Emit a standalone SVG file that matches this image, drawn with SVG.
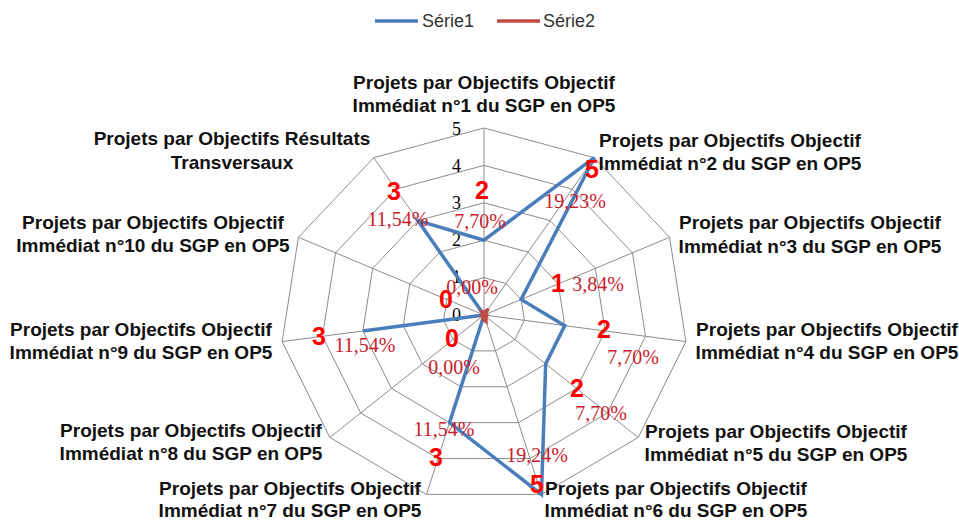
<svg xmlns="http://www.w3.org/2000/svg" width="959" height="520" viewBox="0 0 959 520">
<style>
.grid{fill:none;stroke:#8c8c8c;stroke-width:1}
.ax{font-family:"Liberation Sans",Arial,sans-serif;font-weight:bold;font-size:19px;fill:#111;text-anchor:middle}
.big{font-family:"Liberation Sans",Arial,sans-serif;font-weight:bold;font-size:25px;fill:#ff0000;text-anchor:middle}
.pct{font-family:"Liberation Serif","Times New Roman",serif;font-size:20px;fill:#c8202c;text-anchor:middle}
.tick{font-family:"Liberation Serif","Times New Roman",serif;font-size:18px;fill:#000;text-anchor:end}
.leg{font-family:"Liberation Sans",Arial,sans-serif;font-size:18px;fill:#333}
</style>
<rect width="959" height="520" fill="#fff"/>
<g id="legend">
<line x1="375" y1="21" x2="418" y2="21" stroke="#4a7ebb" stroke-width="3.5"/>
<text class="leg" x="422" y="27">Série1</text>
<line x1="497" y1="21" x2="540" y2="21" stroke="#be4b48" stroke-width="3.5"/>
<text class="leg" x="543" y="27">Série2</text>
</g>
<g id="grid">
<polygon class="grid" points="484,277.6 506.06,283.54 521.11,299.46 524.38,320.32 514.83,339.49 495.49,350.88 472.51,350.88 453.17,339.49 443.62,320.32 446.89,299.46 461.94,283.54"/>
<polygon class="grid" points="484,240.2 528.12,252.08 558.22,283.93 564.77,325.64 545.67,363.98 506.99,386.77 461.01,386.77 422.33,363.98 403.23,325.64 409.78,283.93 439.88,252.08"/>
<polygon class="grid" points="484,202.8 550.17,220.61 595.34,268.39 605.15,330.97 576.5,388.48 518.48,422.65 449.52,422.65 391.5,388.48 362.85,330.97 372.66,268.39 417.83,220.61"/>
<polygon class="grid" points="484,165.4 572.23,189.15 632.45,252.86 645.54,336.29 607.34,412.97 529.98,458.54 438.02,458.54 360.66,412.97 322.46,336.29 335.55,252.86 395.77,189.15"/>
<polygon class="grid" points="484,128 594.29,157.69 669.56,237.32 685.92,341.61 638.17,437.46 541.47,494.42 426.53,494.42 329.83,437.46 282.08,341.61 298.44,237.32 373.71,157.69"/>
<path class="grid" d="M484,315L484,128M484,315L594.29,157.69M484,315L669.56,237.32M484,315L685.92,341.61M484,315L638.17,437.46M484,315L541.47,494.42M484,315L426.53,494.42M484,315L329.83,437.46M484,315L282.08,341.61M484,315L298.44,237.32M484,315L373.71,157.69"/>
</g>
<g id="ticks">
<text class="tick" x="461" y="135">5</text>
<text class="tick" x="461" y="172">4</text>
<text class="tick" x="461" y="209">3</text>
<text class="tick" x="461" y="246">2</text>
<text class="tick" x="461" y="283">1</text>
<text class="tick" x="461" y="321">0</text>
</g>
<g id="connectors">
<polygon id="serie1" points="484,240.2 594.29,157.69 521.11,299.46 564.77,325.64 545.67,363.98 541.47,494.42 449.52,422.65 484,315 362.85,330.97 484,315 417.83,220.61" fill="none" stroke="#4a7ebb" stroke-width="3.5" stroke-linejoin="miter"/>
<polygon id="serie2" points="484,312.12 488.25,308.94 485.43,314.4 487.11,315.41 486.37,316.89 486.21,321.91 482.67,319.14 484,315 479.34,315.61 484,315 481.45,311.37" fill="#be4b48" stroke="#be4b48" stroke-width="3"/>
</g>
<g id="data-labels">
<text class="big" x="482" y="199">2</text>
<text class="pct" x="480" y="227.5">7,70%</text>
<text class="big" x="592" y="178">5</text>
<text class="pct" x="575" y="207.5">19,23%</text>
<text class="big" x="558" y="292">1</text>
<text class="pct" x="598" y="290.5">3,84%</text>
<text class="big" x="604" y="338">2</text>
<text class="pct" x="633" y="363.5">7,70%</text>
<text class="big" x="577" y="397">2</text>
<text class="pct" x="601" y="419.5">7,70%</text>
<text class="big" x="537" y="493">5</text>
<text class="pct" x="537" y="461.5">19,24%</text>
<text class="big" x="436" y="466">3</text>
<text class="pct" x="444" y="435.5">11,54%</text>
<text class="big" x="452" y="347">0</text>
<text class="pct" x="454" y="373.5">0,00%</text>
<text class="big" x="319" y="345">3</text>
<text class="pct" x="365" y="351.5">11,54%</text>
<text class="big" x="446" y="308">0</text>
<text class="pct" x="472" y="293.5">0,00%</text>
<text class="big" x="394" y="200">3</text>
<text class="pct" x="398" y="225.5">11,54%</text>
</g>
<g id="axis1"><text class="ax" x="484" y="89">Projets par Objectifs Objectif</text><text class="ax" x="484" y="112">Immédiat n°1 du SGP en OP5</text></g>
<g id="axis2"><text class="ax" x="730" y="147">Projets par Objectifs Objectif</text><text class="ax" x="730" y="170">Immédiat n°2 du SGP en OP5</text></g>
<g id="axis3"><text class="ax" x="810" y="229">Projets par Objectifs Objectif</text><text class="ax" x="810" y="253">Immédiat n°3 du SGP en OP5</text></g>
<g id="axis4"><text class="ax" x="827" y="336">Projets par Objectifs Objectif</text><text class="ax" x="827" y="359">Immédiat n°4 du SGP en OP5</text></g>
<g id="axis5"><text class="ax" x="776" y="438">Projets par Objectifs Objectif</text><text class="ax" x="776" y="461">Immédiat n°5 du SGP en OP5</text></g>
<g id="axis6"><text class="ax" x="676" y="495">Projets par Objectifs Objectif</text><text class="ax" x="676" y="517">Immédiat n°6 du SGP en OP5</text></g>
<g id="axis7"><text class="ax" x="290" y="495">Projets par Objectifs Objectif</text><text class="ax" x="290" y="517">Immédiat n°7 du SGP en OP5</text></g>
<g id="axis8"><text class="ax" x="191" y="437">Projets par Objectifs Objectif</text><text class="ax" x="191" y="460">Immédiat n°8 du SGP en OP5</text></g>
<g id="axis9"><text class="ax" x="141" y="336">Projets par Objectifs Objectif</text><text class="ax" x="141" y="359">Immédiat n°9 du SGP en OP5</text></g>
<g id="axis10"><text class="ax" x="153" y="229">Projets par Objectifs Objectif</text><text class="ax" x="153" y="252">Immédiat n°10 du SGP en OP5</text></g>
<g id="axis11"><text class="ax" x="232" y="145">Projets par Objectifs Résultats</text><text class="ax" x="232" y="169">Transversaux</text></g>
</svg>
